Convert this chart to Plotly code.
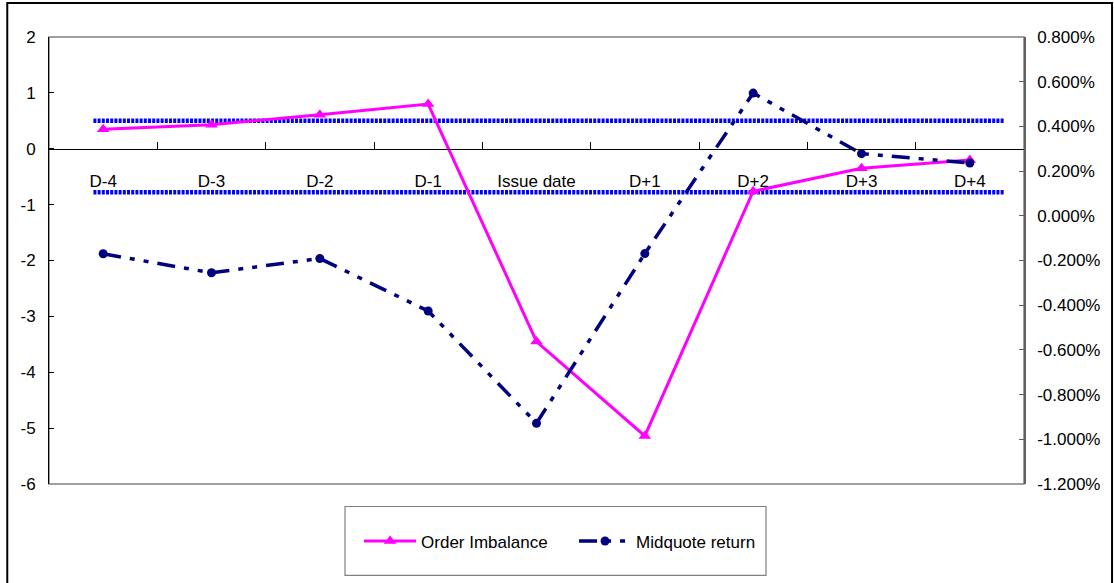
import plotly.graph_objects as go

# ---------------- data ----------------
categories = ["D-4", "D-3", "D-2", "D-1", "Issue date", "D+1", "D+2", "D+3", "D+4"]
order_imbalance = [0.35, 0.43, 0.61, 0.80, -3.45, -5.14, -0.76, -0.35, -0.20]
midquote_return_pct = [-0.170, -0.255, -0.191, -0.426, -0.928, -0.169, 0.549, 0.278, 0.236]

band_x = [-0.09, 8.32]          # extent of the two dotted reference lines (category-index units)
band_upper = [0.50, 0.50]
band_lower = [-0.78, -0.78]

left_range = [-6, 2]
left_tickvals = [2, 1, 0, -1, -2, -3, -4, -5, -6]
left_ticktext = ["2", "1", "0", "-1", "-2", "-3", "-4", "-5", "-6"]

right_range = [-1.2, 0.8]
right_tickvals = [0.8, 0.6, 0.4, 0.2, 0.0, -0.2, -0.4, -0.6, -0.8, -1.0, -1.2]
right_ticktext = ["0.800%", "0.600%", "0.400%", "0.200%", "0.000%", "-0.200%",
                  "-0.400%", "-0.600%", "-0.800%", "-1.000%", "-1.200%"]

# ---------------- figure ----------------
FONT = "Liberation Sans, Arial, sans-serif"
FS = 17
idx = list(range(len(categories)))
boundaries = [i + 0.5 for i in idx[:-1]]

fig = go.Figure()

for band in (band_upper, band_lower):
    fig.add_trace(go.Scatter(
        x=band_x, y=band, mode="lines", showlegend=False, hoverinfo="skip",
        line=dict(color="#0000FF", width=4.5, dash="3px,1.2px"),
        xaxis="x", yaxis="y"))

fig.add_trace(go.Scatter(
    x=idx, y=order_imbalance, name="Order Imbalance", mode="lines+markers",
    line=dict(color="#FF00FF", width=3),
    marker=dict(symbol="triangle-up", size=11, color="#FF00FF"),
    xaxis="x", yaxis="y"))

fig.add_trace(go.Scatter(
    x=idx, y=midquote_return_pct, name="Midquote return", mode="lines+markers",
    line=dict(color="#000080", width=3.5, dash="18px,9px,5px,9px,5px,9px"),
    marker=dict(symbol="circle", size=9, color="#000080"),
    xaxis="x", yaxis="y2"))

zero_pos = (0 - left_range[0]) / (left_range[1] - left_range[0])

fig.update_layout(
    width=1114, height=583,
    margin=dict(l=49, r=90, t=37, b=98.5, autoexpand=False),
    paper_bgcolor="white", plot_bgcolor="white",
    font=dict(family=FONT, size=FS, color="black"),
    xaxis=dict(
        type="linear", range=[-0.5, 8.5], anchor="free", position=zero_pos,
        tickmode="array", tickvals=idx, ticktext=categories, ticks="",
        minor=dict(tickmode="array", tickvals=boundaries, ticks="inside",
                   ticklen=7, tickcolor="black", tickwidth=1, showgrid=False),
        showline=True, linecolor="black", linewidth=1,
        showgrid=False, zeroline=False, ticklabelstandoff=17,
        tickfont=dict(family=FONT, size=FS, color="black"),
    ),
    yaxis=dict(
        range=left_range, tickmode="array", tickvals=left_tickvals, ticktext=left_ticktext,
        ticks="inside", ticklen=5, tickcolor="black",
        showline=True, linecolor="black", linewidth=1,
        showgrid=False, zeroline=False, ticklabelstandoff=9,
        tickfont=dict(family=FONT, size=FS, color="black"),
    ),
    yaxis2=dict(
        range=right_range, overlaying="y", side="right", anchor="x",
        tickmode="array", tickvals=right_tickvals, ticktext=right_ticktext,
        ticks="inside", ticklen=5, tickcolor="#606060",
        showline=True, linecolor="#606060", linewidth=1.5,
        showgrid=False, zeroline=False, ticklabelstandoff=8,
        tickfont=dict(family=FONT, size=FS, color="black"),
    ),
    legend=dict(
        orientation="h", x=0.318, xanchor="left", y=-0.1285, yanchor="middle",
        bgcolor="rgba(0,0,0,0)", borderwidth=0, itemwidth=52, entrywidth=148,
        font=dict(family=FONT, size=FS, color="black"),
    ),
    shapes=[
        # plot-area frame
        dict(type="rect", xref="paper", yref="paper", x0=0, x1=1, y0=0, y1=1,
             line=dict(color="#808080", width=1.5), layer="below"),
        # legend box
        dict(type="rect", xref="paper", yref="paper", x0=0.3036, x1=0.7354,
             y0=-0.2045, y1=-0.0503, line=dict(color="#808080", width=1.2)),
        # outer chart border
        dict(type="rect", xref="paper", yref="paper", x0=-0.0428, x1=1.0903,
             y0=-0.25, y1=1.076, line=dict(color="black", width=2)),
    ],
)

fig.write_html("out.html", config={"displayModeBar": False},
               post_script="document.body.style.margin='0';")
